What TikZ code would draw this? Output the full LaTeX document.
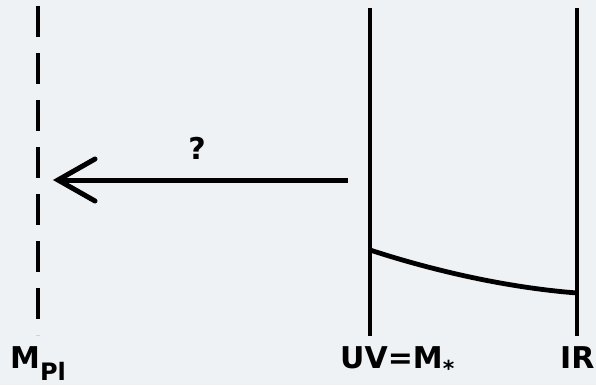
\documentclass[tikz,border=0pt]{standalone}
\usepackage{fontspec}
\setmainfont{DejaVu Sans}
\definecolor{bgcol}{HTML}{EEF2F4}
\tikzset{
  scaleline/.style={line width=4.8pt, black},
  dashline/.style={line width=4pt, black, dash pattern=on 31pt off 16pt},
  lbl/.style={inner sep=0pt, anchor=base west, font=\fontsize{30}{30}\selectfont\bfseries},
  flowarrow/.style={line width=5pt, black},
}
\begin{document}
\begin{tikzpicture}[x=1pt,y=-1pt]
\fill[bgcol] (0,0) rectangle (596,385);
\useasboundingbox (0,0) rectangle (596,385);
% lines
\coordinate (pltop) at (38,6);
\coordinate (plbot) at (38,335);
\coordinate (uvtop) at (370,8);
\coordinate (uvbot) at (370,336);
\coordinate (irtop) at (577,8);
\coordinate (irbot) at (577,336);
\draw[dashline] (pltop) -- (plbot);
\draw[scaleline] (uvtop) -- (uvbot);
\draw[scaleline] (irtop) -- (irbot);
% curve
\coordinate (cstart) at (370,250);
\coordinate (cend) at (577,293);
\draw[scaleline] (cstart) .. controls (425,268) and (500,287) .. (cend);
% arrow
\coordinate (astart) at (348,180);
\coordinate (atip) at (58,180);
\coordinate (aup) at (95,159);
\coordinate (adown) at (95,201);
\draw[flowarrow] (astart) -- (atip);
\draw[flowarrow, line join=miter, line cap=round] (aup) -- (atip) -- (adown);
\node[inner sep=0pt, font=\fontsize{30}{30}\selectfont\bfseries] (q) at (197,148) {?};
% labels
\node[lbl] (mpl) at (10,368) {M\raisebox{-12pt}{\fontsize{24}{24}\selectfont Pl}};
\node[lbl] (uv) at (340,368) {UV=M\raisebox{-8pt}{\fontsize{22}{22}\selectfont *}};
\node[lbl] (ir) at (560,368) {IR};
\end{tikzpicture}
\end{document}
